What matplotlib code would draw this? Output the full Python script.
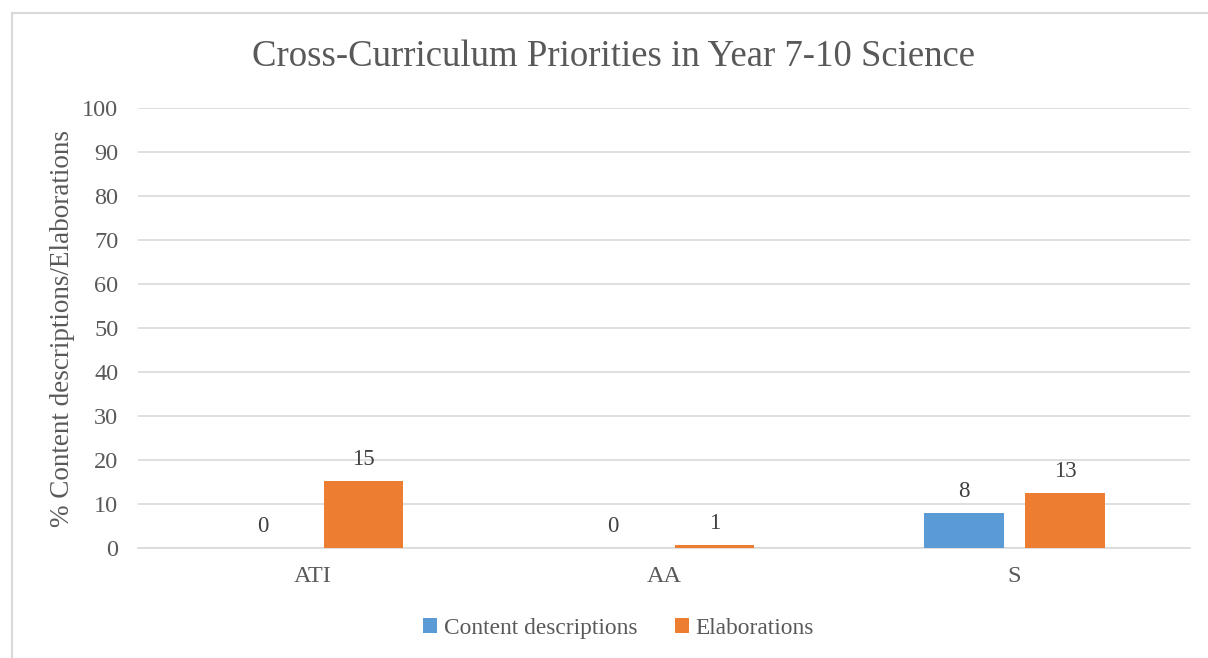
from matplotlib import pyplot as plt
from matplotlib.patches import Rectangle
import numpy as np

categories = ['ATI', 'AA', 'S']
content_desc = [0.0, 0.0, 8.0]
elaborations = [15.3, 0.7, 12.6]
series_names = ['Content descriptions', 'Elaborations']
y_ticks = list(range(0, 101, 10))

BLUE = '#5b9bd5'
ORANGE = '#ed7d31'
TEXT = '#595959'
GRID = '#d9d9d9'

plt.rcParams['font.family'] = ['Liberation Serif', 'DejaVu Serif']


def main():
    fig = plt.figure(figsize=(12.08, 6.58), dpi=100, facecolor='white')
    ax = fig.add_axes([0.114, 0.167, 0.871, 0.669])

    # outer chart border
    fig.patches.append(Rectangle((12 / 1208, -0.05), 1.2, (658 - 13) / 658 + 0.05,
                                 transform=fig.transFigure, fill=False,
                                 edgecolor=GRID, linewidth=1.5))

    x = np.arange(len(categories))
    width = 0.226
    offset = 0.144
    b1 = ax.bar(x - offset, content_desc, width, color=BLUE, label=series_names[0], zorder=3)
    b2 = ax.bar(x + offset, elaborations, width, color=ORANGE, label=series_names[1], zorder=3)
    for bars in (b1, b2):
        ax.bar_label(bars, fmt='%.0f', padding=8, fontsize=16.5, color='#404040')

    ax.set_xlim(-0.5, 2.5)
    ax.set_ylim(0, 100)
    ax.set_yticks(y_ticks)
    ax.set_xticks(x)
    ax.set_xticklabels(categories)
    ax.tick_params(axis='both', length=0, labelsize=17.5, labelcolor=TEXT)
    ax.tick_params(axis='y', pad=14)
    ax.tick_params(axis='x', pad=13)
    ax.grid(axis='y', color=GRID, linewidth=1.2, zorder=0)
    for side in ['top', 'right', 'left']:
        ax.spines[side].set_visible(False)
    ax.spines['bottom'].set_color(GRID)
    ax.spines['bottom'].set_linewidth(1.2)

    ax.set_ylabel('% Content descriptions/Elaborations', fontsize=19.5, color=TEXT, labelpad=5)
    fig.text(0.508, 0.913, 'Cross-Curriculum Priorities in Year 7-10 Science',
             ha='center', va='center', fontsize=26.5, color=TEXT)

    fig.legend(loc='center', bbox_to_anchor=(0.512, 0.045), ncol=2, frameon=False,
               fontsize=16.8, labelcolor=TEXT, handlelength=0.6, handleheight=0.6,
               handletextpad=0.3, columnspacing=1.6)

    fig.savefig('out.png', dpi=100, facecolor='white')


if __name__ == '__main__':
    main()
